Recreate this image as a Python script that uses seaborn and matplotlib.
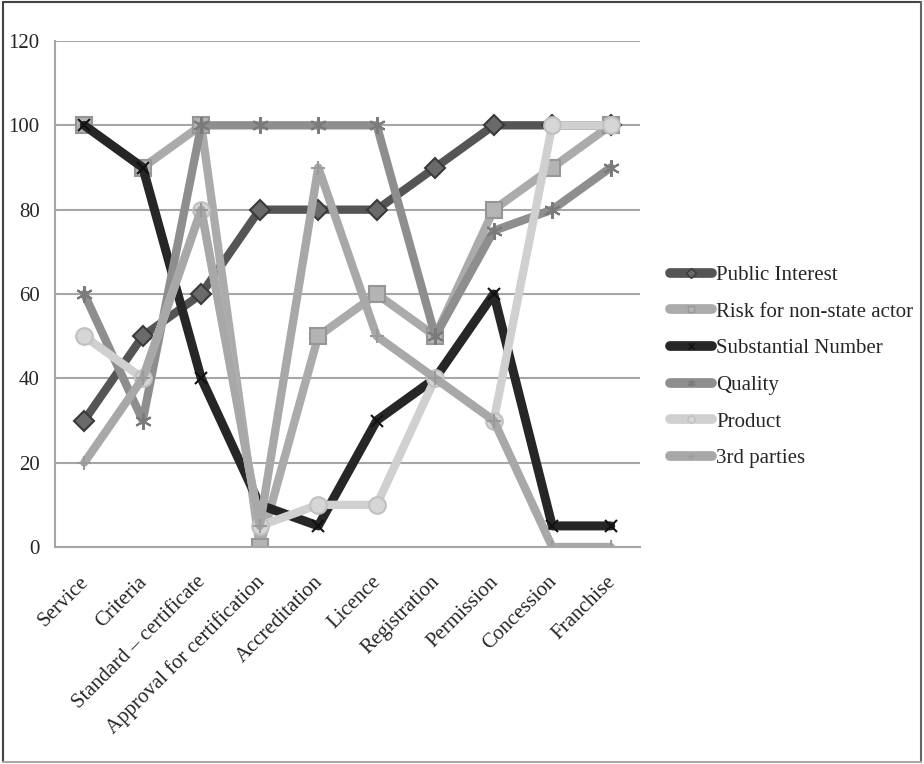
import matplotlib
matplotlib.use("Agg")
import matplotlib.pyplot as plt
import matplotlib.transforms as mtransforms
from matplotlib.lines import Line2D
import seaborn as sns
import pandas as pd

categories = ["Service", "Criteria", "Standard \u2013 certificate", "Approval for certification",
              "Accreditation", "Licence", "Registration", "Permission", "Concession", "Franchise"]
series_names = ["Public Interest", "Risk for non-state actor", "Substantial Number",
                "Quality", "Product", "3rd parties"]
public_interest = [30, 50, 60, 80, 80, 80, 90, 100, 100, 100]
risk_non_state = [100, 90, 100, 0, 50, 60, 50, 80, 90, 100]
substantial_number = [100, 90, 40, 10, 5, 30, 40, 60, 5, 5]
quality = [60, 30, 100, 100, 100, 100, 50, 75, 80, 90]
product = [50, 40, 80, 5, 10, 10, 40, 30, 100, 100]
third_parties = [20, 40, 80, 5, 90, 50, 40, 30, 0, 0]
y_ticks = [0, 20, 40, 60, 80, 100, 120]

values = [public_interest, risk_non_state, substantial_number, quality, product, third_parties]

df = pd.DataFrame({
    "category": categories * len(series_names),
    "series": [s for s in series_names for _ in categories],
    "value": [v for vals in values for v in vals],
})

styles = {
    "Public Interest":          dict(color="#555555", marker="D", ms=10, mfc="#6a6a6a", mec="#3a3a3a", lw=6.0),
    "Risk for non-state actor": dict(color="#ababab", marker="s", ms=12, mfc="#b4b4b4", mec="#969696", lw=6.0),
    "Substantial Number":       dict(color="#262626", marker="x", ms=9,  mfc="none",    mec="#111111", lw=6.5),
    "Quality":                  dict(color="#8e8e8e", marker=(6, 2, 0), ms=12, mfc="none", mec="#7a7a7a", lw=6.0),
    "Product":                  dict(color="#d0d0d0", marker="o", ms=12, mfc="#d6d6d6", mec="#c0c0c0", lw=6.0),
    "3rd parties":              dict(color="#a8a8a8", marker="+", ms=10, mfc="none",    mec="#9a9a9a", lw=6.0),
}

sns.set_theme(style="white")
plt.rcParams["font.family"] = ["Liberation Serif", "DejaVu Serif"]

fig = plt.figure(figsize=(9.24, 7.64), dpi=100)
ax = fig.add_axes([55 / 924, 1 - 547 / 764, (640 - 55) / 924, (547 - 41) / 764])

for name in series_names:
    st = styles[name]
    sub = df[df["series"] == name]
    sns.lineplot(data=sub, x="category", y="value", ax=ax, sort=False, legend=False,
                 color=st["color"], linewidth=st["lw"], marker=st["marker"],
                 markersize=st["ms"], markerfacecolor=st["mfc"], markeredgecolor=st["mec"],
                 markeredgewidth=1.5, solid_capstyle="round", solid_joinstyle="round")

ax.set_xlim(-0.5, len(categories) - 0.5)
ax.set_ylim(0, 120)
ax.set_yticks(y_ticks)
ax.set_yticklabels([str(t) for t in y_ticks], fontsize=15)
ax.set_xticks(range(len(categories)))
ax.set_xticks([i - 0.5 for i in range(len(categories) + 1)], minor=True)
ax.tick_params(axis="x", which="major", length=0, pad=14)
ax.tick_params(axis="x", which="minor", length=5, width=1.5, color="#a6a6a6", direction="out")
ax.tick_params(axis="y", length=6, width=1.5, color="#a6a6a6", direction="out", pad=5)
ax.set_xticklabels(categories, rotation=45, ha="right", rotation_mode="anchor", fontsize=15)
shift = mtransforms.ScaledTranslation(-5 / 100, -6 / 100, fig.dpi_scale_trans)
for lbl in ax.get_xticklabels():
    lbl.set_transform(lbl.get_transform() + shift)
ax.set_xlabel("")
ax.set_ylabel("")

ax.yaxis.grid(True, color="#a6a6a6", linewidth=1.5)
ax.set_axisbelow(True)
for side in ["top", "right"]:
    ax.spines[side].set_visible(False)
for side in ["left", "bottom"]:
    ax.spines[side].set_color("#a6a6a6")
    ax.spines[side].set_linewidth(1.5)

handles = []
for name in series_names:
    st = styles[name]
    handles.append(Line2D([0], [0], color=st["color"], lw=7, solid_capstyle="round",
                          marker=st["marker"], ms=5, mfc=st["mfc"], mec=st["mec"], mew=1.0))
fig.legend(handles, series_names, loc="upper left", bbox_to_anchor=(662 / 924, 1 - 257 / 764),
           frameon=False, fontsize=15, handlelength=2.0, handletextpad=0.2, labelspacing=0.82,
           borderaxespad=0)

# Outer frame around the whole figure
fig.add_artist(Line2D([0.003, 0.997], [0.997, 0.997], transform=fig.transFigure, color="#444444", lw=1.5))
fig.add_artist(Line2D([0.003, 0.003], [0.003, 0.997], transform=fig.transFigure, color="#444444", lw=1.5))
fig.add_artist(Line2D([0.997, 0.997], [0.003, 0.997], transform=fig.transFigure, color="#666666", lw=1.5))
fig.add_artist(Line2D([0.003, 0.997], [0.003, 0.003], transform=fig.transFigure, color="#aaaaaa", lw=1.5))

fig.savefig("out.png", dpi=100)
